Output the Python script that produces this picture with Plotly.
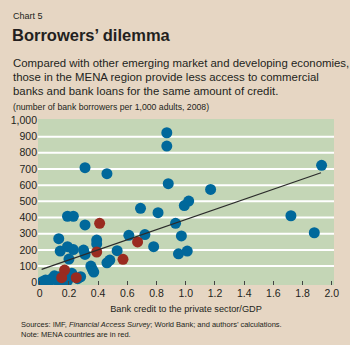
import plotly.graph_objects as go

# Other emerging market and developing economies
other_credit = [0.31, 0.46, 0.87, 0.87, 0.88, 1.17, 0.69, 0.81, 0.99, 1.02,
                0.93, 0.19, 0.23, 0.31, 0.13, 0.61, 0.72, 0.97, 0.39, 0.39,
                0.14, 0.19, 0.23, 0.30, 0.31, 0.53, 0.78, 0.95, 1.01, 1.72,
                1.88, 1.93, 0.20, 0.35, 0.36, 0.37, 0.46, 0.48, 0.28, 0.21,
                0.22, 0.10, 0.04, 0.06, 0.08, 0.10, 0.13, 0.17, 0.19, 0.02,
                0.12, 0.15, 0.26, 0.07]
other_borrowers = [708, 671, 924, 842, 609, 574, 457, 430, 474, 502,
                   364, 408, 408, 354, 269, 290, 295, 286, 261, 237,
                   193, 220, 202, 199, 172, 195, 220, 176, 193, 411,
                   306, 723, 143, 100, 80, 63, 120, 137, 34, 34,
                   55, 40, 14, 7, 20, 24, 34, 45, 8, 5,
                   12, 4, 22, 10]

# MENA countries
mena_credit = [0.41, 0.39, 0.67, 0.57, 0.17, 0.15, 0.25]
mena_borrowers = [364, 187, 249, 142, 75, 28, 28]

# Fitted trend line (end points)
trend_credit = [0.013, 1.926]
trend_borrowers = [80, 677]

x_ticks = [0, 0.2, 0.4, 0.6, 0.8, 1.0, 1.2, 1.4, 1.6, 1.8, 2.0]
x_labels = ["0", "0.2", "0.4", "0.6", "0.8", "1.0", "1.2", "1.4", "1.6", "1.8", "2.0"]
y_ticks = [0, 100, 200, 300, 400, 500, 600, 700, 800, 900, 1000]
y_labels = ["0", "100", "200", "300", "400", "500", "600", "700", "800", "900", "1,000"]
grid_levels = [100, 200, 300, 400, 500, 600, 700, 800, 900]

BLUE = "#00689b"
RED = "#9a2b20"
PAPER = "#e6d6c3"
PLOT_BG = "#c4d6b6"
INK = "#231f20"
FONT = "Liberation Sans, Arial, sans-serif"

W, H = 350, 345
L, R, T, B = 36, 11, 119, 60
PW, PH = W - L - R, H - T - B


def px(x, y):
    """Pixel position on the page -> paper coordinates."""
    return (x - L) / PW, (H - B - y) / PH


fig = go.Figure()

fig.add_trace(go.Scatter(
    x=other_credit, y=other_borrowers, mode="markers",
    marker=dict(color=BLUE, size=11, line=dict(width=0)),
    hoverinfo="x+y", showlegend=False,
))
fig.add_trace(go.Scatter(
    x=mena_credit, y=mena_borrowers, mode="markers",
    marker=dict(color=RED, size=11, line=dict(width=0)),
    hoverinfo="x+y", showlegend=False,
))
fig.add_trace(go.Scatter(
    x=trend_credit, y=trend_borrowers, mode="lines",
    line=dict(color="#2b2b2b", width=1.2),
    hoverinfo="skip", showlegend=False,
))

shapes = [
    dict(type="line", xref="paper", x0=0, x1=1, yref="y", y0=g, y1=g,
         line=dict(color="white", width=2), layer="below")
    for g in grid_levels
]

texts = [
    ("Chart 5", 8, 16, 9),
    ("<b>Borrowers’ dilemma</b>", 7, 35, 16.5),
    ("Compared with other emerging market and developing economies,", 8, 63, 11.4),
    ("those in the MENA region provide less access to commercial", 8, 77, 11.4),
    ("banks and bank loans for the same amount of credit.", 8, 90.5, 11.4),
    ("(number of bank borrowers per 1,000 adults, 2008)", 8, 107, 8.7),
    ("Sources: IMF, <i>Financial Access Survey</i>; World Bank; and authors’ calculations.", 17, 324, 7.5),
    ("Note: MENA countries are in red.", 17, 334.5, 7.5),
]
annotations = []
for text, x, y, size in texts:
    ax, ay = px(x, y)
    annotations.append(dict(
        text=text, xref="paper", yref="paper", x=ax, y=ay,
        xanchor="left", yanchor="middle", showarrow=False,
        font=dict(family=FONT, size=size, color=INK),
    ))

fig.update_layout(
    width=W, height=H,
    margin=dict(l=L, r=R, t=T, b=B, pad=0),
    paper_bgcolor=PAPER, plot_bgcolor=PLOT_BG,
    font=dict(family=FONT, size=10.5, color=INK),
    shapes=shapes, annotations=annotations,
    xaxis=dict(
        range=[-0.012, 2.015], tickvals=x_ticks, ticktext=x_labels,
        showgrid=False, zeroline=False, showline=False,
        ticks="inside", ticklen=4, tickwidth=1, tickcolor="#444444",
        tickfont=dict(size=10.5, color=INK),
        title=dict(text="Bank credit to the private sector/GDP",
                   font=dict(size=9.2, color=INK), standoff=8),
    ),
    yaxis=dict(
        range=[-17, 1009], tickvals=y_ticks, ticktext=y_labels,
        showgrid=False, zeroline=False, showline=False,
        ticks="", tickfont=dict(size=10.5, color=INK),
    ),
)

fig.write_html("out.html")
